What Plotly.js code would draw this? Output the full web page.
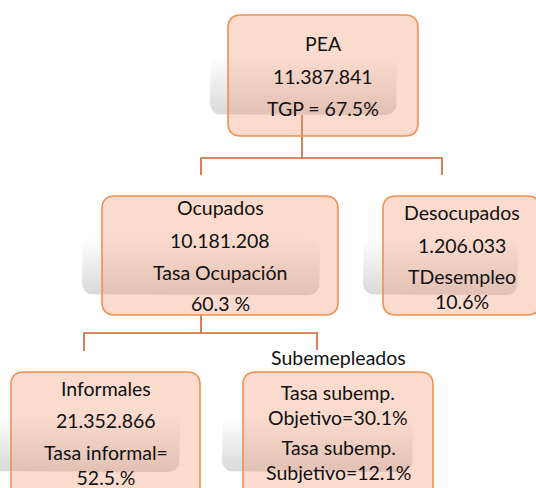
<!DOCTYPE html>
<html>
<head>
<meta charset="utf-8">
<script src="https://cdn.plot.ly/plotly-3.0.1.min.js"></script>
<style>html,body{margin:0;padding:0;background:#fff;}#chart{width:536px;height:488px;}</style>
</head>
<body>
<div id="chart"></div>
<script>
// ---- Data (text content of the org chart) ----
const nodeNames = ["PEA", "Ocupados", "Desocupados", "Informales", "Subemepleados"];
const nodeCounts = ["11.387.841", "10.181.208", "1.206.033", "21.352.866", ""];
const nodeRates = ["TGP = 67.5%", "Tasa Ocupación", "TDesempleo<br>10.6%", "Tasa informal=<br>52.5.%", ""];
const extraLines = ["", "60.3 %", "", "", ""];
const subempLines = ["Tasa subemp.<br>Objetivo=30.1%", "Tasa subemp.<br>Subjetivo=12.1%"];

// ---- Layout geometry (pixels, y downward) ----
const boxes = [
  {x0:228, x1:418, y0:15,  y1:136, sx0:210, sx1:397, sy0:57,  sy1:115},
  {x0:102, x1:338, y0:196, y1:315, sx0:82,  sx1:320, sy0:237, sy1:295},
  {x0:383, x1:540, y0:196, y1:315, sx0:363, sx1:518, sy0:238, sy1:295},
  {x0:11,  x1:200, y0:372, y1:505, sx0:-8,  sx1:180, sy0:415, sy1:472},
  {x0:243, x1:433, y0:372, y1:505, sx0:222, sx1:413, sy0:418, sy1:472}
];
const textX = [323, 220, 462, 106, 338];
const textY = [
  [43, 76, 108],
  [207, 240, 272, 303],
  [212, 245, 289],
  [388, 420, 465],
  [357]
];
const subempY = [405, 460];
const connectors = [
  {stem:[302,115,158], bar:[201,442], drops:[[201,175],[442,175]]},
  {stem:[201,315,333], bar:[84,317],  drops:[[84,351],[317,350]]}
];

const FILL = "rgba(242,150,112,0.34)";
const BORDER = "#F28E4E";
const LINE = "#C9652C";
const FONT = {family:"Lato, 'Open Sans', sans-serif", size:19.5, color:"#111"};

function rr(x0,y0,x1,y1,r){
  return `M${x0+r},${y0} L${x1-r},${y0} Q${x1},${y0} ${x1},${y0+r} L${x1},${y1-r} Q${x1},${y1} ${x1-r},${y1} L${x0+r},${y1} Q${x0},${y1} ${x0},${y1-r} L${x0},${y0+r} Q${x0},${y0} ${x0+r},${y0} Z`;
}
function rrPoints(x0,y0,x1,y1,r){
  const xs=[], ys=[];
  const corners=[[x1-r,y0+r,-90,0],[x1-r,y1-r,0,90],[x0+r,y1-r,90,180],[x0+r,y0+r,180,270]];
  corners.forEach(c=>{
    for(let a=c[2]; a<=c[3]; a+=10){
      const t=a*Math.PI/180;
      xs.push(c[0]+r*Math.cos(t)); ys.push(c[1]+r*Math.sin(t));
    }
  });
  xs.push(xs[0]); ys.push(ys[0]);
  return {xs, ys};
}

const traces = boxes.map(b=>{
  const p = rrPoints(b.sx0,b.sy0,b.sx1,b.sy1,12);
  return {
    type:"scatter", mode:"lines", x:p.xs, y:p.ys, fill:"toself",
    line:{width:0, color:"rgba(0,0,0,0)"},
    fillgradient:{type:"vertical", start:b.sy0, stop:b.sy1,
      colorscale:[[0,"rgba(255,255,255,1)"],[1,"rgba(216,216,216,1)"]]},
    hoverinfo:"skip", showlegend:false
  };
});

const shapes = [];
connectors.forEach(c=>{
  shapes.push({type:"path", layer:"below", path:`M${c.stem[0]},${c.stem[1]} L${c.stem[0]},${c.stem[2]}`, line:{color:LINE,width:1.6}});
  shapes.push({type:"path", layer:"below", path:`M${c.drops[0][0]},${c.drops[0][1]} L${c.bar[0]},${c.stem[2]} L${c.bar[1]},${c.stem[2]} L${c.drops[1][0]},${c.drops[1][1]}`, line:{color:LINE,width:1.6}});
});
boxes.forEach(b=>{
  shapes.push({type:"path", layer:"above", path:rr(b.x0,b.y0,b.x1,b.y1,13), fillcolor:FILL, line:{color:BORDER,width:1.6}});
});

const annotations = [];
function addText(x,y,t){
  annotations.push({x:x, y:y, xref:"x", yref:"y", text:t, showarrow:false, font:FONT, xanchor:"center", yanchor:"middle", align:"center"});
}
for(let i=0;i<4;i++){
  const lines = [nodeNames[i], nodeCounts[i], nodeRates[i], extraLines[i]].filter(s=>s!=="");
  lines.forEach((t,k)=>addText(textX[i], textY[i][k], t));
}
addText(textX[4], textY[4][0], nodeNames[4]);
subempLines.forEach((t,k)=>addText(textX[4], subempY[k], t));

const layout = {
  width:536, height:488, margin:{l:0,r:0,t:0,b:0},
  paper_bgcolor:"#fff", plot_bgcolor:"#fff",
  xaxis:{range:[0,536], visible:false, fixedrange:true},
  yaxis:{range:[488,0], visible:false, fixedrange:true},
  shapes:shapes, annotations:annotations, showlegend:false
};
Plotly.newPlot("chart", traces, layout, {staticPlot:true, displayModeBar:false});
</script>
</body>
</html>
